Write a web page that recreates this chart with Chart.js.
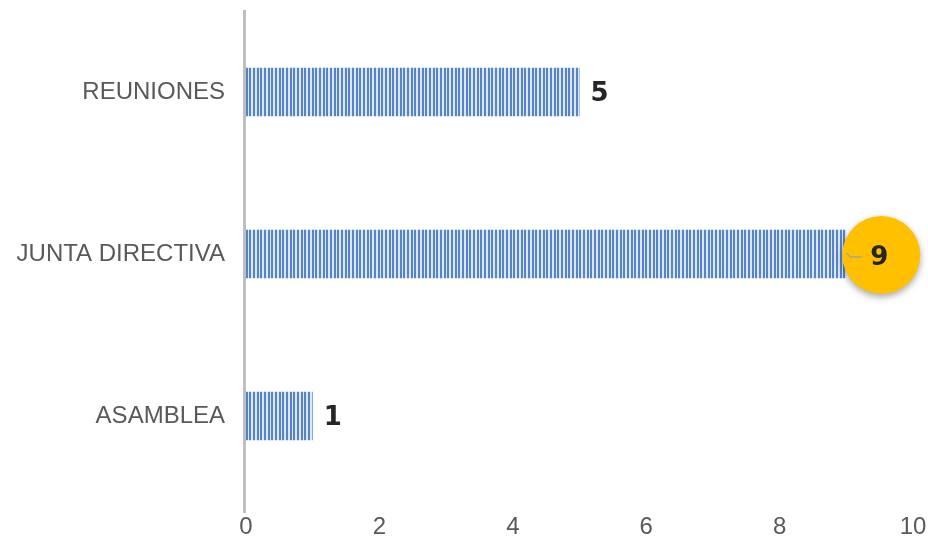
<!DOCTYPE html>
<html><head><meta charset="utf-8">
<script src="https://cdn.jsdelivr.net/npm/chart.js@4.4.0/dist/chart.umd.min.js"></script>
<style>html,body{margin:0;padding:0;background:#fff}#wrap{width:928px;height:537px;position:relative}</style>
</head><body><div id="wrap"><canvas id="c"></canvas></div>
<script>
const categories = ['REUNIONES', 'JUNTA DIRECTIVA', 'ASAMBLEA'];
const values = [5, 9, 1];
const xTicks = [0, 2, 4, 6, 8, 10];

// vertical stripe pattern for bars
const pc = document.createElement('canvas');
pc.width = 11; pc.height = 4;
const p = pc.getContext('2d');
p.fillStyle = '#dbe6f6'; p.fillRect(0, 0, 11, 4);
p.fillStyle = '#5585c8';
[0, 1, 4, 5, 7, 8].forEach(function (x) { p.fillRect(x, 0, 1, 4); });
const stripe = p.createPattern(pc, 'repeat');

const axisLine = {
  id: 'axisLine',
  beforeDatasetsDraw(chart) {
    const c = chart.ctx, a = chart.chartArea;
    c.save();
    c.strokeStyle = '#bfbfbf';
    c.lineWidth = 3;
    c.beginPath();
    c.moveTo(a.left - 1.5, a.top - 1);
    c.lineTo(a.left - 1.5, a.bottom + 16);
    c.stroke();
    c.restore();
  }
};

const valueLabels = {
  id: 'valueLabels',
  afterDatasetsDraw(chart) {
    const c = chart.ctx;
    const meta = chart.getDatasetMeta(0);
    const maxV = Math.max.apply(null, values);
    c.save();
    c.font = 'bold 26px "DejaVu Sans", "Liberation Sans", sans-serif';
    c.textAlign = 'center';
    c.textBaseline = 'middle';
    meta.data.forEach(function (bar, i) {
      const v = values[i];
      if (v === maxV) {
        const cx = bar.x + 35, cy = bar.y + 1;
        c.save();
        c.shadowColor = 'rgba(0,0,0,0.35)';
        c.shadowBlur = 7;
        c.shadowOffsetY = 3;
        c.fillStyle = '#FFC000';
        c.beginPath();
        c.arc(cx, cy, 39, 0, Math.PI * 2);
        c.fill();
        c.restore();
        c.strokeStyle = '#a6a6a6';
        c.lineWidth = 1.5;
        c.beginPath();
        c.moveTo(bar.x, bar.y - 1);
        c.lineTo(bar.x + 4, bar.y + 3);
        c.lineTo(bar.x + 16, bar.y + 3);
        c.stroke();
        c.fillStyle = '#262626';
        c.fillText(String(v), cx - 2, cy + 3);
      } else {
        c.fillStyle = '#262626';
        c.fillText(String(v), bar.x + 20, bar.y + 2);
      }
    });
    c.restore();
  }
};

new Chart(document.getElementById('c'), {
  type: 'bar',
  data: {
    labels: categories,
    datasets: [{
      data: values,
      backgroundColor: stripe,
      borderWidth: 0,
      categoryPercentage: 1,
      barPercentage: 0.3
    }]
  },
  options: {
    indexAxis: 'y',
    responsive: true,
    maintainAspectRatio: false,
    animation: false,
    layout: { padding: { top: 11, right: 15, bottom: 0, left: 0 } },
    plugins: { legend: { display: false }, tooltip: { enabled: false } },
    scales: {
      x: {
        min: 0, max: 10,
        afterBuildTicks(s) { s.ticks = xTicks.map(function (v) { return { value: v }; }); },
        grid: { display: false, drawTicks: false },
        border: { display: false },
        ticks: {
          padding: 16,
          color: '#595959',
          font: { family: '"Liberation Sans", Arial, sans-serif', size: 24 }
        },
        afterFit(s) { s.height = 40; s.paddingLeft = 0; s.paddingRight = 0; }
      },
      y: {
        grid: { display: false, drawTicks: false },
        border: { display: false },
        ticks: {
          padding: 21,
          color: '#595959',
          font: { family: '"Liberation Sans", Arial, sans-serif', size: 24 }
        },
        afterFit(s) { s.width = 246; s.paddingTop = 0; s.paddingBottom = 0; }
      }
    }
  },
  plugins: [axisLine, valueLabels]
});
</script>
</body></html>
